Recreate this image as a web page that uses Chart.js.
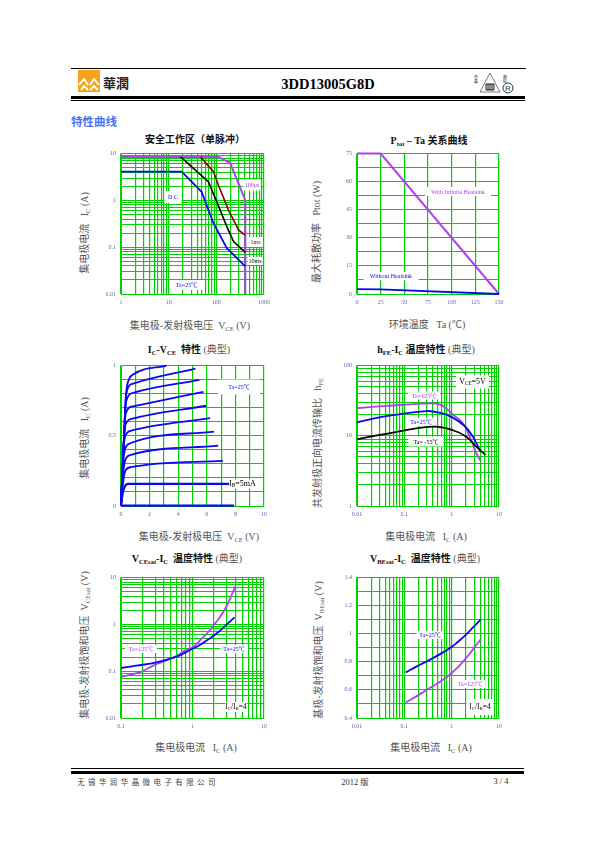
<!DOCTYPE html>
<html>
<head>
<meta charset="utf-8">
<script src="https://cdn.jsdelivr.net/npm/chart.js@4"></script>
<style>
  html, body { margin: 0; padding: 0; background: #fff; }
  #page { position: relative; width: 595px; height: 842px; overflow: hidden; font-family: "Liberation Serif", "Noto Sans CJK SC", serif; color: #000; }
  canvas { position: absolute; }
  .t { position: absolute; white-space: nowrap; transform: translate(-50%, -50%); }
  .rule { position: absolute; background: #000; }
  .title { font-size: 10px; font-weight: bold; color: #111; }
  .title span { font-weight: normal; color: #555; }
  .axis { font-size: 10px; color: #555; }
  .yaxis { transform: translate(-50%, -50%) rotate(-90deg); }
  .note { font-size: 6px; line-height: 1; }
  sub { font-size: 65%; vertical-align: baseline; position: relative; top: 0.25em; }
</style>
</head>
<body>
<div id="page">
  <div class="rule" style="left:71px;top:68px;width:455px;height:1px"></div>
  <svg style="position:absolute;left:78px;top:70px" width="22" height="22">
    <rect width="22" height="22" fill="#f7a41d"/>
    <path d="M1 15 L6 9 L10 15 M12 15 L16 9 L21 15 M3 20 L6 16 L10 20 M12 20 L16 16 L20 20" fill="none" stroke="#fff" stroke-width="1.8"/>
  </svg>
  <div class="t" style="left:116px;top:82px;font:bold 13px 'Noto Sans CJK TC';color:#222">華潤</div>
  <div class="t" style="left:328px;top:84px;font:bold 14.5px 'Liberation Serif'">3DD13005G8D</div>
  <svg style="position:absolute;left:478px;top:72px" width="24" height="22">
    <path d="M12 1 L22 20 L2 20 Z" fill="none" stroke="#444" stroke-width="0.7"/>
    <path d="M8 12 H16 V18 H8 Z M10 12 V18 M12 12 V18 M14 12 V18" fill="none" stroke="#000" stroke-width="0.9"/>
  </svg>
  <div class="t" style="left:476px;top:79px;font:4px 'Noto Sans CJK SC';writing-mode:vertical-rl">华晶</div>
  <div class="t" style="left:505px;top:79px;font:4px 'Noto Sans CJK SC';writing-mode:vertical-rl">商标</div>
  <div class="t" style="left:508px;top:88px;font:8px 'Liberation Sans';border:0.7px solid #333;border-radius:50%;width:9px;height:9px;line-height:9px;text-align:center;color:#333">R</div>
  <div class="rule" style="left:71px;top:96px;width:454px;height:3px"></div>
  <div class="rule" style="left:71px;top:100px;width:454px;height:1px"></div>
  <div class="t" style="left:94px;top:121px;font:bold 11.5px 'Noto Sans CJK SC';color:#4a6ef5">特性曲线</div>

  <div class="t title" style="left:195px;top:138px">安全工作区（单脉冲）</div>
  <div class="t title" style="left:429px;top:139px">P<sub>tot</sub> – Ta 关系曲线</div>
  <div class="t title" style="left:189px;top:348px">I<sub>C</sub>-V<sub>CE</sub>&nbsp; 特性 <span>(典型)</span></div>
  <div class="t title" style="left:426px;top:348px">h<sub>FE</sub>-I<sub>C</sub> 温度特性 <span>(典型)</span></div>
  <div class="t title" style="left:187px;top:557px">V<sub>CEsat</sub>-I<sub>C</sub>&nbsp; 温度特性 <span>(典型)</span></div>
  <div class="t title" style="left:425px;top:557px">V<sub>BEsat</sub>-I<sub>C</sub>&nbsp; 温度特性 <span>(典型)</span></div>

  <div class="t axis" style="left:190px;top:324px">集电极-发射极电压&nbsp; V<sub>CE</sub> (V)</div>
  <div class="t axis" style="left:427px;top:323px">环境温度 &nbsp; Ta (℃)</div>
  <div class="t axis" style="left:199px;top:535px">集电极-发射极电压&nbsp; V<sub>CE</sub> (V)</div>
  <div class="t axis" style="left:426px;top:535px">集电极电流 &nbsp; I<sub>C</sub> (A)</div>
  <div class="t axis" style="left:196px;top:746px">集电极电流 &nbsp; I<sub>C</sub> (A)</div>
  <div class="t axis" style="left:431px;top:746px">集电极电流 &nbsp; I<sub>C</sub> (A)</div>

  <div class="t axis yaxis" style="left:83px;top:233px">集电极电流 &nbsp; I<sub>C</sub> (A)</div>
  <div class="t axis yaxis" style="left:315px;top:232px">最大耗散功率 &nbsp; Ptot (W)</div>
  <div class="t axis yaxis" style="left:83px;top:438px">集电极电流 &nbsp; I<sub>C</sub> (A)</div>
  <div class="t axis yaxis" style="left:316px;top:443px">共发射极正向电流传输比 &nbsp; h<sub>FE</sub></div>
  <div class="t axis yaxis" style="left:83px;top:645px">集电极-发射极饱和电压 &nbsp;V<sub>CEsat</sub> (V)</div>
  <div class="t axis yaxis" style="left:317px;top:650px">基极-发射极饱和电压 &nbsp;V<sub>BEsat</sub> (V)</div>

  <div class="rule" style="left:71px;top:768px;width:453px;height:1px"></div>
  <div class="rule" style="left:71px;top:771px;width:453px;height:3px"></div>
  <div class="t" style="left:148px;top:781px;font:7.5px 'Noto Sans CJK SC';letter-spacing:3.4px;color:#444">无锡华润华晶微电子有限公司</div>
  <div class="t" style="left:355px;top:781px;font:8.5px 'Liberation Serif','Noto Sans CJK SC';color:#333">2012 版</div>
  <div class="t" style="left:501px;top:781px;font:8.5px 'Liberation Serif';color:#333">3 / 4</div>
</div>

<script>
// curves, all as [x, y]
const dcCurve   = [[1,4.1],[18.7,4.1],[49,1.53],[87,0.325],[166,0.095],[405,0.039]];
const ms10Curve = [[17.8,8.5],[68,2.5],[102,0.94],[166,0.275],[230,0.132],[405,0.077]];
const ms1Curve  = [[47,8.4],[87,4.1],[111,2.1],[180,0.62],[293,0.234],[405,0.18]];
const us100Curve = [[1,8.5],[111,8.5],[195,6.3],[405,1],[405,0.01]];

const heatsinkCurve = [[0,75],[25,75],[150,0]];
const noHeatsinkCurve = [[0,2.6],[25,2.5],[150,0]];

const ib0  = [[0,0.002],[7.9,0.002]];
const ib1  = [[0,0],[0.12,0.09],[0.3,0.145],[0.5,0.158],[7.56,0.158]];
const ib2  = [[0,0],[0.14,0.16],[0.3,0.25],[0.7,0.277],[7.12,0.322]];
const ib3  = [[0,0],[0.14,0.22],[0.3,0.33],[0.7,0.364],[6.8,0.43]];
const ib4  = [[0,0],[0.14,0.3],[0.3,0.41],[0.65,0.447],[6.5,0.53]];
const ib5  = [[0,0],[0.16,0.38],[0.3,0.5],[0.73,0.537],[6.23,0.626]];
const ib6  = [[0,0],[0.18,0.43],[0.32,0.58],[0.73,0.62],[5.95,0.714]];
const ib7  = [[0,0],[0.2,0.47],[0.33,0.66],[0.85,0.71],[5.76,0.813]];
const ib8  = [[0,0],[0.2,0.47],[0.35,0.74],[0.85,0.806],[5.48,0.898]];
const ib9  = [[0,0],[0.2,0.47],[0.36,0.8],[0.85,0.872],[5.2,0.979]];
const ib10 = [[0,0],[0.2,0.47],[0.36,0.8],[0.55,0.9],[0.85,0.936],[3.19,1]];

const hfe125 = [[0.01,24.8],[0.0355,26.5],[0.343,28.9],[0.557,28],[0.8,24],[1.03,20.4],[1.74,15],[2.6,8.7],[3.3,5.65],[4.04,4.45]];
const hfe25  = [[0.01,15.5],[0.0355,18.7],[0.29,22.5],[0.557,21.3],[1.03,18.3],[1.88,13.8],[2.82,9.7],[3.4,7.6],[4.04,6]];
const hfe55  = [[0.01,8.9],[0.0355,10.5],[0.404,13.5],[1.03,12.1],[2.04,9.7],[3.3,7],[5.2,5.35]];

const vce25  = [[0.1,0.117],[0.164,0.132],[0.282,0.148],[0.6,0.205],[0.87,0.271],[1.27,0.363],[1.67,0.48],[2.19,0.645],[3.02,1],[3.87,1.41]];
const vce125 = [[0.1,0.076],[0.193,0.098],[0.282,0.132],[0.389,0.16],[0.6,0.212],[0.785,0.275],[1.03,0.335],[1.35,0.5],[1.76,0.76],[2.19,1.17],[2.71,1.86],[3.37,3.57],[3.95,6.55]];

const vbe25  = [[0.107,0.724],[0.179,0.766],[0.343,0.814],[0.557,0.853],[0.908,0.896],[1.36,0.943],[2.04,0.996],[2.82,1.045],[4.1,1.1]];
const vbe125 = [[0.107,0.511],[0.179,0.554],[0.343,0.613],[0.557,0.656],[0.908,0.708],[1.26,0.751],[1.74,0.802],[2.4,0.858],[3.31,0.92],[4.1,0.958]];

// decades of the log axes
const socDecadesX = [1, 10, 100, 1000];
const socDecadesY = [0.01, 0.1, 1, 10];
const hfeDecadesX = [0.01, 0.1, 1, 10];
const hfeDecadesY = [1, 10, 100];
const vceDecadesX = [0.1, 1, 10];
const vceDecadesY = [0.01, 0.1, 1, 10];
const vbeDecadesX = [0.01, 0.1, 1, 10];

const BLUE = '#0808f0', PURPLE = '#b040f0', RED = '#8b0000', BLACK = '#000';
const GREEN = '#00d000', TICK = '#6464b4';

function logTicks(decades) {
  const out = [];
  decades.forEach((d, i) => {
    if (i === decades.length - 1) { out.push(d); return; }
    for (let k = 1; k < 10; k++) out.push(+(d * k).toPrecision(2));
  });
  return out;
}

function logAxis(decades, afterFit) {
  return {
    type: 'logarithmic',
    min: decades[0],
    max: decades[decades.length - 1],
    afterFit,
    afterBuildTicks: s => { s.ticks = logTicks(decades).map(value => ({ value })); },
    ticks: { callback: v => decades.includes(v) ? String(v) : '' }
  };
}

function linAxis(max, min, step, labelEvery, afterFit) {
  return {
    type: 'linear', min, max, afterFit,
    ticks: {
      stepSize: step,
      callback: v => {
        const n = Math.round((v - min) / step);
        return n % labelEvery === 0 ? String(+v.toFixed(2)) : '';
      }
    }
  };
}

const fitX = s => { s.height = 22; };
const fitY = s => { s.width = 30; };

// white patch behind a label, over the grid but under the curves
const notePatches = {
  id: 'notePatches',
  beforeDatasetsDraw(chart, args, opts) {
    const c = chart.ctx;
    c.save();
    c.fillStyle = '#fff';
    opts.notes.forEach(n => c.fillRect(n.x - opts.left - n.w / 2, n.y - opts.top - n.h / 2, n.w, n.h));
    c.restore();
  }
};

// mode: undefined straight, 'mono' monotone, number = tension
function line(points, color, width, mode) {
  return {
    data: points.map(p => ({ x: p[0], y: p[1] })),
    borderColor: color,
    borderWidth: width,
    pointRadius: 0,
    fill: false,
    clip: false,
    cubicInterpolationMode: mode === 'mono' ? 'monotone' : 'default',
    tension: typeof mode === 'number' ? mode : 0
  };
}

function plot(box, datasets, xAxis, yAxis, notes) {
  const page = document.getElementById('page');
  const cv = document.createElement('canvas');
  const left = box.l - 30, top = box.t - 8;
  cv.width = box.w + 30 + 14;
  cv.height = box.h + 8 + 22;
  cv.style.left = left + 'px';
  cv.style.top = top + 'px';
  page.appendChild(cv);

  [xAxis, yAxis].forEach((a, i) => {
    a.border = { display: true, color: GREEN, width: 1 };
    a.grid = { color: GREEN, lineWidth: i ? 1 : 1.2, drawTicks: false };
    Object.assign(a.ticks, {
      autoSkip: false, maxRotation: 0, minRotation: 0, padding: 5,
      color: TICK, font: { family: 'Liberation Serif', size: 6 }
    });
  });

  new Chart(cv, {
    type: 'line',
    data: { datasets },
    options: {
      responsive: false,
      animation: false,
      layout: { padding: { left: 0, top: 8, right: 14, bottom: 0 } },
      scales: { x: xAxis, y: yAxis },
      plugins: {
        legend: { display: false },
        tooltip: { enabled: false },
        notePatches: { notes, left, top }
      }
    },
    plugins: [notePatches]
  });

  notes.forEach(n => {
    const d = document.createElement('div');
    d.className = 't note';
    d.style.left = n.x + 'px';
    d.style.top = n.y + 'px';
    d.style.color = n.color;
    if (n.size) d.style.fontSize = n.size + 'px';
    d.innerHTML = n.html;
    page.appendChild(d);
  });
}

plot({ l: 121, t: 153, w: 143, h: 141 },
  [line(dcCurve, BLUE, 1.8), line(ms10Curve, BLACK, 1.6), line(ms1Curve, RED, 1.6), line(us100Curve, PURPLE, 2)],
  logAxis(socDecadesX, fitX), logAxis(socDecadesY, fitY),
  [
    { x: 252, y: 185, w: 17, h: 11, html: '100μs', color: PURPLE },
    { x: 255.5, y: 242, w: 14.5, h: 10, html: '1ms', color: RED },
    { x: 255, y: 261, w: 15, h: 8, html: '10ms', color: BLACK },
    { x: 173, y: 197, w: 17, h: 12, html: 'D C', color: BLUE },
    { x: 186.5, y: 285, w: 33, h: 10, html: 'Ta=25℃', color: BLUE }
  ]);

plot({ l: 357, t: 153, w: 142, h: 141 },
  [line(noHeatsinkCurve, BLUE, 1.8), line(heatsinkCurve, PURPLE, 2)],
  linAxis(150, 0, 25, 1, fitX), linAxis(75, 0, 7.5, 2, fitY),
  [
    { x: 458, y: 191.5, w: 66, h: 9, html: 'With Infinite Heatsink', color: PURPLE },
    { x: 391, y: 276, w: 55, h: 8, html: 'Without Heatsink', color: BLUE }
  ]);

plot({ l: 121, t: 365, w: 143, h: 141 },
  [ib0, ib1, ib2, ib3, ib4, ib5, ib6, ib7, ib8, ib9, ib10].map((c, i) => line(c, BLUE, i < 2 ? 2.2 : 1.8, 'mono')),
  linAxis(10, 0, 1, 2, fitX), linAxis(1, 0, 0.1, 5, fitY),
  [
    { x: 239, y: 387, w: 42, h: 15, html: 'Ta=25℃', color: BLUE },
    { x: 242.5, y: 484, w: 25, h: 9, html: 'I<sub>B</sub>=5mA', color: BLACK, size: 8 }
  ]);

plot({ l: 357, t: 365, w: 142, h: 141 },
  [line(hfe55, BLACK, 1.7, 0.4), line(hfe25, BLUE, 1.8, 0.4), line(hfe125, PURPLE, 1.8, 0.4)],
  logAxis(hfeDecadesX, fitX), logAxis(hfeDecadesY, fitY),
  [
    { x: 472.5, y: 382, w: 33, h: 13, html: 'V<sub>CE</sub>=5V', color: BLACK, size: 8 },
    { x: 424, y: 395.5, w: 32, h: 8, html: 'Ta=125℃', color: PURPLE },
    { x: 421, y: 422, w: 25, h: 8, html: 'Ta=25℃', color: BLUE },
    { x: 426, y: 441.5, w: 35, h: 10, html: 'Ta= -55℃', color: BLACK }
  ]);

plot({ l: 121, t: 577, w: 143, h: 141 },
  [line(vce25, BLUE, 1.8, 0.4), line(vce125, PURPLE, 1.8, 0.4)],
  logAxis(vceDecadesX, fitX), logAxis(vceDecadesY, fitY),
  [
    { x: 141, y: 649, w: 32, h: 8, html: 'Ta=125℃', color: PURPLE },
    { x: 234, y: 649, w: 28, h: 8, html: 'Ta=25℃', color: BLUE },
    { x: 236, y: 707, w: 22, h: 10, html: 'I<sub>C</sub>/I<sub>B</sub>=4', color: BLACK, size: 7.5 }
  ]);

plot({ l: 357, t: 577, w: 142, h: 141 },
  [line(vbe25, BLUE, 1.8, 0.4), line(vbe125, PURPLE, 1.8, 0.4)],
  logAxis(vbeDecadesX, fitX), linAxis(1.4, 0.4, 0.1, 2, fitY),
  [
    { x: 430, y: 635, w: 27, h: 8, html: 'Ta=25℃', color: BLUE },
    { x: 470, y: 684, w: 30, h: 8, html: 'Ta=125℃', color: PURPLE },
    { x: 480, y: 707, w: 27, h: 16, html: 'I<sub>C</sub>/I<sub>B</sub>=4', color: BLACK, size: 7.5 }
  ]);
</script>
</body>
</html>
